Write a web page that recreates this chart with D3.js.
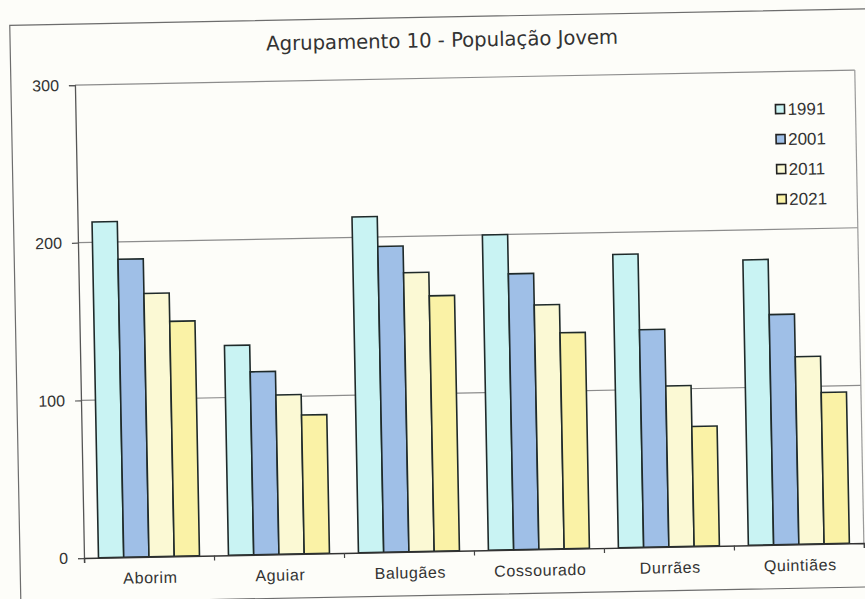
<!DOCTYPE html>
<html>
<head>
<meta charset="utf-8">
<script src="https://cdn.jsdelivr.net/npm/d3@7"></script>
<style>
  html, body { margin: 0; padding: 0; background: #fdfdf9; }
  svg { display: block; }
</style>
</head>
<body>
<div id="chart"></div>
<script>
const categories = ["Aborim", "Aguiar", "Balugães", "Cossourado", "Durrães", "Quintiães"];
const seriesNames = ["1991", "2001", "2011", "2021"];
const values1991 = [213, 133, 213, 200, 186, 181];
const values2001 = [189, 116, 194, 175, 138, 146];
const values2011 = [167, 101, 177, 155, 102, 119];
const values2021 = [149, 88, 162, 137, 76, 96];
const yTicks = [0, 100, 200, 300];
const titleText = "Agrupamento 10 - População Jovem";

const seriesValues = [values1991, values2001, values2011, values2021];
const colors = ["#c9f3f3", "#9fbfe7", "#fbf9d4", "#faf2a6"];

const W = 865, H = 599;
const plotLeft = 84, plotRight = 864, plotTop = 85, plotBottom = 558;

const svg = d3.select("#chart").append("svg")
  .attr("width", W).attr("height", H);

svg.append("rect").attr("width", W).attr("height", H).attr("fill", "#fdfdf9");

// the scanned chart is slightly rotated
const g = svg.append("g").attr("transform", `rotate(-1.1, ${plotLeft}, ${plotBottom})`);

// outer chart border
g.append("rect")
  .attr("x", 20).attr("y", 24).attr("width", 900).attr("height", 578)
  .attr("fill", "none").attr("stroke", "#6d6d6d").attr("stroke-width", 1.2);

const x0 = d3.scaleBand().domain(categories).range([plotLeft, plotRight])
  .paddingInner(0.223).paddingOuter(0.1115);
const x1 = d3.scaleBand().domain(seriesNames).range([0, x0.bandwidth()]);
const y = d3.scaleLinear().domain([0, 300]).range([plotBottom, plotTop]);

// gridlines
g.append("g").selectAll("line").data(yTicks.filter(d => d > 0)).join("line")
  .attr("x1", plotLeft).attr("x2", plotRight)
  .attr("y1", d => y(d)).attr("y2", d => y(d))
  .attr("stroke", "#8c8c8c").attr("stroke-width", 1.2);

// right plot border
g.append("line")
  .attr("x1", plotRight).attr("x2", plotRight).attr("y1", y(300)).attr("y2", y(0))
  .attr("stroke", "#9a9a9a").attr("stroke-width", 1.2);

// bars
const rows = [];
categories.forEach((c, i) => seriesNames.forEach((s, j) => rows.push({c, s, j, v: seriesValues[j][i]})));
g.append("g").selectAll("rect").data(rows).join("rect")
  .attr("x", d => x0(d.c) + x1(d.s))
  .attr("y", d => y(d.v))
  .attr("width", x1.bandwidth())
  .attr("height", d => y(0) - y(d.v))
  .attr("fill", d => colors[d.j])
  .attr("stroke", "#1f2a2a").attr("stroke-width", 1.6);

// y axis
const yAxis = g.append("g").attr("transform", `translate(${plotLeft},0)`)
  .call(d3.axisLeft(y).tickValues(yTicks).tickSize(6).tickPadding(10));
yAxis.select(".domain").attr("stroke", "#555").attr("stroke-width", 1.3);
yAxis.selectAll(".tick line").attr("stroke", "#555").attr("stroke-width", 1.2);
yAxis.selectAll(".tick text")
  .attr("font-family", "Liberation Sans, Arial, sans-serif")
  .attr("font-size", 16).attr("fill", "#333");

// x axis
const xIdx = d3.scaleLinear().domain([0, categories.length]).range([plotLeft, plotRight]);
const xAxis = g.append("g").attr("transform", `translate(0,${plotBottom})`)
  .call(d3.axisBottom(xIdx).tickValues(d3.range(0, categories.length + 1)).tickSize(5).tickFormat(""));
xAxis.select(".domain").attr("stroke", "#333").attr("stroke-width", 1.4);
xAxis.selectAll(".tick line").attr("stroke", "#444").attr("stroke-width", 1.2);

g.append("g").selectAll("text").data(categories).join("text")
  .attr("x", d => x0(d) + x0.bandwidth() / 2 + 1)
  .attr("y", plotBottom + 26.5)
  .attr("text-anchor", "middle")
  .attr("font-family", "Liberation Sans, Arial, sans-serif")
  .attr("font-size", 16).attr("letter-spacing", 0.6)
  .attr("fill", "#333")
  .text(d => d);

// title
g.append("text")
  .attr("x", 452).attr("y", 54)
  .attr("text-anchor", "middle")
  .attr("font-family", "DejaVu Sans Condensed, DejaVu Sans, sans-serif")
  .attr("font-size", 20)
  .attr("textLength", 352).attr("lengthAdjust", "spacingAndGlyphs")
  .attr("fill", "#333")
  .text(titleText);

// legend
const legend = g.append("g").selectAll("g").data(seriesNames).join("g")
  .attr("transform", (d, i) => `translate(784, ${122.5 + i * 30})`);
legend.append("rect")
  .attr("x", 0).attr("y", -4.5).attr("width", 9).attr("height", 9)
  .attr("fill", (d, i) => colors[i]).attr("stroke", "#222").attr("stroke-width", 1.6);
legend.append("text")
  .attr("x", 12).attr("y", 0).attr("dy", "0.36em")
  .attr("font-family", "Liberation Sans, Arial, sans-serif")
  .attr("font-size", 17).attr("fill", "#333")
  .text(d => d);
</script>
</body>
</html>
